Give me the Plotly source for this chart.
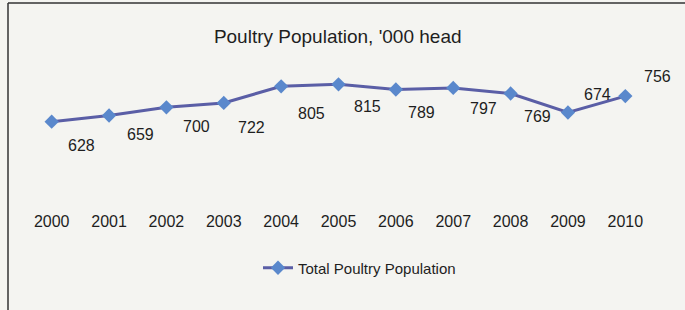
import plotly.graph_objects as go

years = ["2000", "2001", "2002", "2003", "2004", "2005", "2006", "2007", "2008", "2009", "2010"]
population = [628, 659, 700, 722, 805, 815, 789, 797, 769, 674, 756]
series_name = "Total Poultry Population"
title_text = "Poultry Population, '000 head"

# label placement (pixel offsets from each point), style only
label_dx = [30, 31, 30, 28, 30, 29, 26, 30, 27, 30, 32]
label_dy = [24, 19, 19, 25, 27, 22, 23, 21, 23, -18, -20]

FONT = "Liberation Sans, Arial, sans-serif"

fig = go.Figure()
fig.add_trace(go.Scatter(
    x=years, y=population, mode="lines+markers", name=series_name,
    line=dict(color="#5a5ea6", width=3),
    marker=dict(symbol="diamond", size=11, color="#5a88cc"),
))

for i, (v, dx, dy) in enumerate(zip(population, label_dx, label_dy)):
    fig.add_annotation(x=i, y=v, xref="x", yref="y", text=str(v),
                       showarrow=False, xshift=dx, yshift=-dy,
                       font=dict(family=FONT, size=16, color="#1e1e1e"))

L, R, T, B = 23, 31, 60, 100
W, H = 685, 310
pw, ph = W - L - R, H - T - B

def px_to_paper_x(px):
    return (px - L) / pw

def px_to_paper_y(py):
    return (H - B - py) / ph

fig.add_shape(type="line", xref="paper", yref="paper",
              x0=px_to_paper_x(8), x1=px_to_paper_x(700),
              y0=px_to_paper_y(3), y1=px_to_paper_y(3),
              line=dict(color="#333333", width=1.5))
fig.add_shape(type="line", xref="paper", yref="paper",
              x0=px_to_paper_x(8), x1=px_to_paper_x(8),
              y0=px_to_paper_y(3), y1=px_to_paper_y(320),
              line=dict(color="#333333", width=1.5))

fig.update_layout(
    width=W, height=H,
    margin=dict(l=L, r=R, t=T, b=B),
    paper_bgcolor="#f4f4f1", plot_bgcolor="rgba(0,0,0,0)",
    title=dict(text=title_text, x=337.7 / W, xanchor="center",
               y=1 - 36.7 / H, yanchor="middle", yref="container",
               font=dict(family=FONT, size=19, color="#1e1e1e")),
    xaxis=dict(type="category", range=[-0.5, 10.5], showgrid=False,
               zeroline=False, showline=False, ticks="",
               tickfont=dict(family=FONT, size=16, color="#1e1e1e")),
    yaxis=dict(range=[186.5, 936.5], visible=False, showgrid=False),
    showlegend=True,
    legend=dict(orientation="h", x=px_to_paper_x(258), xanchor="left",
                y=px_to_paper_y(268), yanchor="middle",
                bgcolor="rgba(0,0,0,0)",
                font=dict(family=FONT, size=15, color="#1e1e1e")),
)

fig.write_html("out.html", config={"displayModeBar": False},
               post_script="document.body.style.margin='0';document.body.style.background='#f4f4f1';")
